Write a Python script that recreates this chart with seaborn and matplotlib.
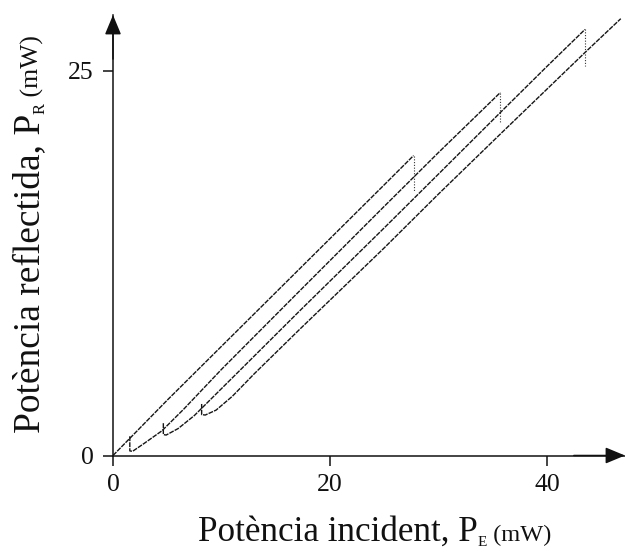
import matplotlib
matplotlib.use("Agg")
import matplotlib.pyplot as plt
import matplotlib.transforms as mtransforms
import numpy as np
import pandas as pd
import seaborn as sns

# ---- data ----
branch1_x = [0, 5, 10, 15, 20, 25, 27.7]
branch1_y = [0, 3.6, 7.1, 10.6, 14.1, 17.6, 19.5]

branch2_x = [1.55, 1.55, 1.8, 2.9, 4.5, 6.5, 10, 17.2, 25, 30, 35.7]
branch2_y = [1.25, 0.30, 0.27, 0.80, 1.60, 3.0, 5.6, 10.7, 16.2, 19.7, 23.6]

branch3_x = [4.64, 4.64, 4.9, 6.0, 7.5, 9.0, 12, 17.2, 25, 30, 35.7, 40, 43.5]
branch3_y = [2.10, 1.36, 1.33, 1.75, 2.6, 3.65, 5.75, 9.4, 14.8, 18.3, 22.3, 25.3, 27.7]

branch4_x = [8.17, 8.17, 8.5, 9.5, 11, 13, 17.2, 25, 30, 35.7, 43.5, 46.8]
branch4_y = [3.35, 2.66, 2.63, 2.95, 3.85, 5.3, 8.2, 13.5, 17.0, 20.9, 26.2, 28.4]

jump_x = [27.7, 35.7, 43.5]
jump_top = [19.5, 23.6, 27.7]
jump_bottom = [17.2, 21.7, 25.3]

x_ticks = [0, 20, 40]
y_ticks = [0, 25]

# ---- build tables ----
rows = []
for name, xs, ys in [("b1", branch1_x, branch1_y), ("b2", branch2_x, branch2_y),
                     ("b3", branch3_x, branch3_y), ("b4", branch4_x, branch4_y)]:
    for i, (a, b) in enumerate(zip(xs, ys)):
        rows.append({"branch": name, "order": i, "x": a, "y": b})
df = pd.DataFrame(rows)

jrows = []
for k, (a, t, b) in enumerate(zip(jump_x, jump_top, jump_bottom)):
    jrows.append({"jump": k, "x": a, "y": t})
    jrows.append({"jump": k, "x": a, "y": b})
dj = pd.DataFrame(jrows)

sns.set_style("ticks")
plt.rcParams["font.family"] = ["Liberation Serif", "DejaVu Serif"]

W, H = 625, 554
fig = plt.figure(figsize=(W / 100, H / 100), dpi=100)
ax = fig.add_axes([113 / W, 98.5 / H, 512 / W, 440.5 / H])

sns.lineplot(data=df, x="x", y="y", units="branch", estimator=None, sort=False,
             color="#151515", lw=1.0, ls=(0, (3.5, 0.8)), ax=ax)
sns.lineplot(data=dj, x="x", y="y", units="jump", estimator=None, sort=False,
             color="#333333", lw=0.8, ls=(0, (1, 1.5)), ax=ax)

ax.set_xlim(0, 47.19)
ax.set_ylim(0, 28.64)
ax.set_xticks(x_ticks)
ax.set_yticks(y_ticks)
ax.set_xlabel("")
ax.set_ylabel("")
ax.tick_params(axis="both", direction="out", length=7, width=1.1, labelsize=18.5,
               colors="#111111")
ax.tick_params(axis="x", pad=6)
ax.tick_params(axis="y", pad=7)
for s in ["top", "right"]:
    ax.spines[s].set_visible(False)
for s in ["left", "bottom"]:
    ax.spines[s].set_linewidth(1.1)
    ax.spines[s].set_color("#111111")

arrow_kw = dict(arrowstyle="-|>,head_length=1.2,head_width=0.5", color="#111111",
                lw=1.1, shrinkA=0, shrinkB=0, mutation_scale=10)
ax.annotate("", xy=(0, 1), xycoords="axes fraction", xytext=(0, 0.9),
            textcoords="axes fraction", arrowprops=arrow_kw, annotation_clip=False)
ax.annotate("", xy=(1, 0), xycoords="axes fraction", xytext=(0.9, 0),
            textcoords="axes fraction", arrowprops=arrow_kw, annotation_clip=False)

# ---- composite axis labels with small subscripts ----
renderer = fig.canvas.get_renderer()
ident = mtransforms.IdentityTransform()


def place_label(pieces, anchor, center, vertical):
    items = []
    for s, size, drop in pieces:
        t = fig.text(0, 0, s, fontsize=size, ha="left", va="baseline",
                     rotation=90 if vertical else 0, rotation_mode="anchor",
                     transform=ident, color="#111111")
        items.append((t, drop))
    lengths = []
    for t, _ in items:
        bb = t.get_window_extent(renderer)
        lengths.append(bb.height if vertical else bb.width)
    pos = center - sum(lengths) / 2
    for (t, drop), L in zip(items, lengths):
        if vertical:
            t.set_position((anchor + drop, pos))
        else:
            t.set_position((pos, anchor - drop))
        pos += L


place_label([("Potència incident, P", 25.3, 0), ("E", 11, 4.5), (" (mW)", 17.6, 0)],
            anchor=H - 541, center=375, vertical=False)
place_label([("Potència reflectida, P", 27, 0), ("R", 12, 5.5), (" (mW)", 18.5, 0)],
            anchor=39, center=H - 234, vertical=True)

fig.savefig("out.png", dpi=100)
